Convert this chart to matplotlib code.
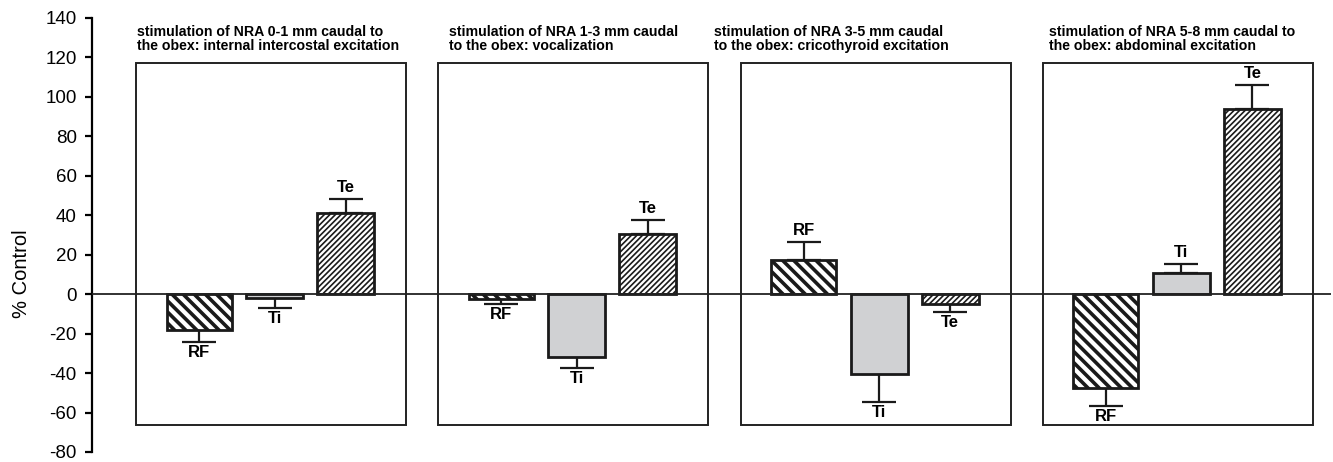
import numpy as np
import matplotlib.pyplot as plt
from matplotlib.patches import Rectangle

plt.rcParams['font.family'] = ['Liberation Sans', 'DejaVu Sans']
plt.rcParams['hatch.color'] = 'black'
plt.rcParams['axes.unicode_minus'] = False

# data (% of control, mean and SEM)
titulos = ['stimulation of NRA 0-1 mm caudal to\nthe obex: internal intercostal excitation',
           'stimulation of NRA 1-3 mm caudal\nto the obex: vocalization',
           'stimulation of NRA 3-5 mm caudal\nto the obex: cricothyroid excitation',
           'stimulation of NRA 5-8 mm caudal to\nthe obex: abdominal excitation']
variables = ['RF', 'Ti', 'Te']
rf_media = [-18, -2.5, 17.5, -47.5]
rf_sem = [6, 2.5, 9, 9]
ti_media = [-2, -32, -40.5, 10.5]
ti_sem = [5, 5.5, 14, 5]
te_media = [41, 30.5, -5, 94]
te_sem = [7.5, 7, 4, 12]

medias = [rf_media, ti_media, te_media]
sems = [rf_sem, ti_sem, te_sem]

# layout (pixel-like x units from the y axis)
paso_panel = 302.3
inicio_panel = 44
ancho_panel = 270
centros = [63, 138.5, 209.5]
anchos = [65, 57, 57]
estilos = [dict(facecolor='white', hatch='\\\\\\'),
           dict(facecolor='#d0d1d3', hatch=None),
           dict(facecolor='white', hatch='//////')]
desplaz_titulo = [1, 11, -27, 6]

fig = plt.figure(figsize=(13.33, 4.62), dpi=100)
ax = fig.add_axes([92 / 1333, 1 - 452 / 462, 1239 / 1333, 434 / 462])
ax.set_xlim(0, 1239)
ax.set_ylim(-80, 140)

for i in range(4):
    x0 = inicio_panel + paso_panel * i
    ax.add_patch(Rectangle((x0, -66.5), ancho_panel, 117 + 66.5, fill=False,
                           edgecolor='#222222', linewidth=1.4, zorder=1))
    ax.text(x0 + desplaz_titulo[i], 122.5, titulos[i], fontsize=10.2, fontweight='bold',
            ha='left', va='bottom', linespacing=1.0)
    for j in range(3):
        v = medias[j][i]
        e = sems[j][i]
        xc = x0 + centros[j]
        plt.rcParams['hatch.linewidth'] = 2.6 if j == 0 else 1.2
        ax.bar(xc, v, width=anchos[j], edgecolor='#1a1a1a', linewidth=2.0,
               zorder=3, **estilos[j])
        if v >= 0:
            yerr = [[0], [e]]
        else:
            yerr = [[e], [0]]
        ax.errorbar(xc, v, yerr=yerr, fmt='none', ecolor='#1a1a1a',
                    elinewidth=1.6, capsize=12, capthick=1.6, zorder=2)
        if v >= 0:
            ax.text(xc, v + e + 2, variables[j], ha='center', va='bottom',
                    fontsize=12, fontweight='bold')
        else:
            ax.text(xc, v - e - 1.6, variables[j], ha='center', va='top',
                    fontsize=12, fontweight='bold')

ax.axhline(0, color='#222222', linewidth=1.3, zorder=4)

ax.set_yticks(np.arange(-80, 141, 20))
ax.set_xticks([])
ax.tick_params(axis='y', direction='out', length=5, width=1.6, labelsize=13.5, pad=6)
for s in ['top', 'right', 'bottom']:
    ax.spines[s].set_visible(False)
ax.spines['left'].set_linewidth(1.6)
ax.set_ylabel('% Control', fontsize=14.5)
ax.yaxis.set_label_coords(-0.049, 0.41)

fig.savefig('out.png', dpi=100)
